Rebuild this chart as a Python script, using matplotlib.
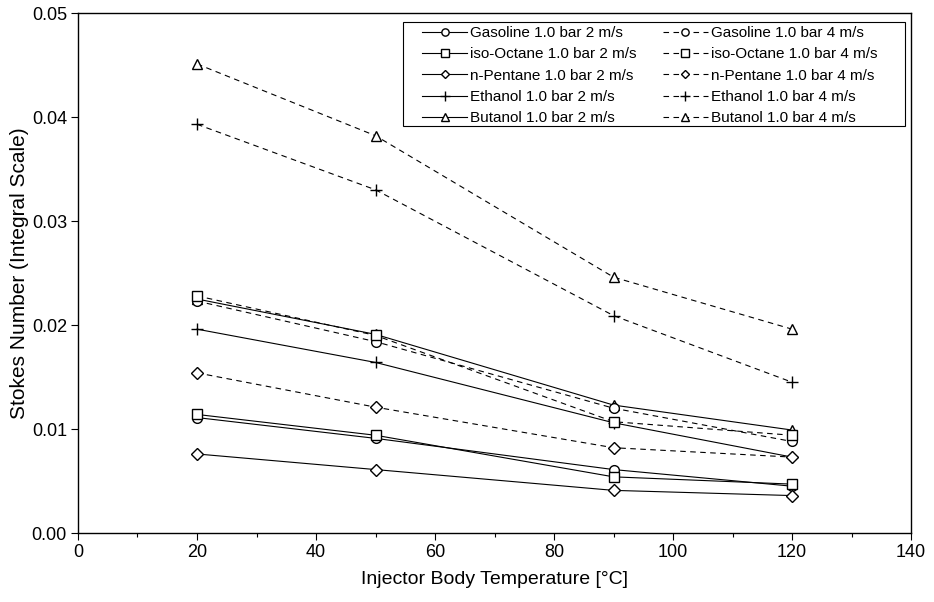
import matplotlib
matplotlib.use('Agg')
import matplotlib.pyplot as plt
from matplotlib.patches import Rectangle
from matplotlib.ticker import MultipleLocator, FormatStrFormatter

plt.rcParams['font.family'] = ['Liberation Sans', 'DejaVu Sans']

# injector body temperature [C]
temps = [20, 50, 90, 120]

# 1.0 bar, 2 m/s
gasoline_2 = [0.0111, 0.0091, 0.0061, 0.0045]
iso_octane_2 = [0.0114, 0.0094, 0.0054, 0.0047]
n_pentane_2 = [0.0076, 0.0061, 0.0041, 0.0036]
ethanol_2 = [0.0196, 0.0164, 0.0106, 0.0073]
butanol_2 = [0.0225, 0.0191, 0.0123, 0.0099]

# 1.0 bar, 4 m/s
gasoline_4 = [0.0223, 0.0184, 0.0120, 0.0088]
iso_octane_4 = [0.0228, 0.0190, 0.0107, 0.0094]
n_pentane_4 = [0.0154, 0.0121, 0.0082, 0.0073]
ethanol_4 = [0.0393, 0.0330, 0.0209, 0.0145]
butanol_4 = [0.0451, 0.0382, 0.0246, 0.0196]

fuels = ['Gasoline', 'iso-Octane', 'n-Pentane', 'Ethanol', 'Butanol']
markers = ['o', 's', 'D', '+', '^']
series_2 = [gasoline_2, iso_octane_2, n_pentane_2, ethanol_2, butanol_2]
series_4 = [gasoline_4, iso_octane_4, n_pentane_4, ethanol_4, butanol_4]

fig = plt.figure(figsize=(9.34, 6.02), dpi=100)
ax = fig.add_axes([0.0835, 0.1146, 0.892, 0.8638])

def msize(m):
    if m == 'D':
        return 6
    if m == '+':
        return 9
    return 7

for name, m, vals in zip(fuels, markers, series_2):
    ax.plot(temps, vals, color='black', lw=0.8, marker=m, ms=msize(m),
            mfc='white', mec='black', mew=1.0,
            label=name + ' 1.0 bar 2 m/s')
for name, m, vals in zip(fuels, markers, series_4):
    ax.plot(temps, vals, color='black', lw=0.8, ls=(0, (5, 4)), marker=m,
            ms=msize(m), mfc='white', mec='black', mew=1.0,
            label=name + ' 1.0 bar 4 m/s')

ax.set_xlim(0, 140)
ax.set_ylim(0, 0.05)
ax.xaxis.set_major_locator(MultipleLocator(20))
ax.xaxis.set_minor_locator(MultipleLocator(10))
ax.yaxis.set_major_locator(MultipleLocator(0.01))
ax.yaxis.set_major_formatter(FormatStrFormatter('%.2f'))
ax.tick_params(axis='both', which='both', direction='out', labelsize=13,
               top=False, right=False)
ax.tick_params(which='major', length=5, width=0.8, pad=3)
ax.tick_params(which='minor', length=3, width=0.8)
for s in ax.spines.values():
    s.set_linewidth(1.0)

ax.set_xlabel('Injector Body Temperature [°C]', fontsize=14, labelpad=7)
ax.set_ylabel('Stokes Number (Integral Scale)', fontsize=15, labelpad=2)

# legend box drawn separately (Excel style, extra room on the right)
ax.add_patch(Rectangle((0.390, 0.783), 0.603, 0.200, transform=ax.transAxes,
                       facecolor='white', edgecolor='black', lw=0.8, zorder=4))
leg = ax.legend(ncol=2, loc='upper left', bbox_to_anchor=(0.413, 0.975),
                fontsize=11, frameon=False, handlelength=2.95,
                handletextpad=0.2, columnspacing=1.7, labelspacing=0.48,
                borderpad=0, borderaxespad=0, markerscale=0.75)
leg.set_zorder(5)

fig.savefig('out.png', dpi=100)
